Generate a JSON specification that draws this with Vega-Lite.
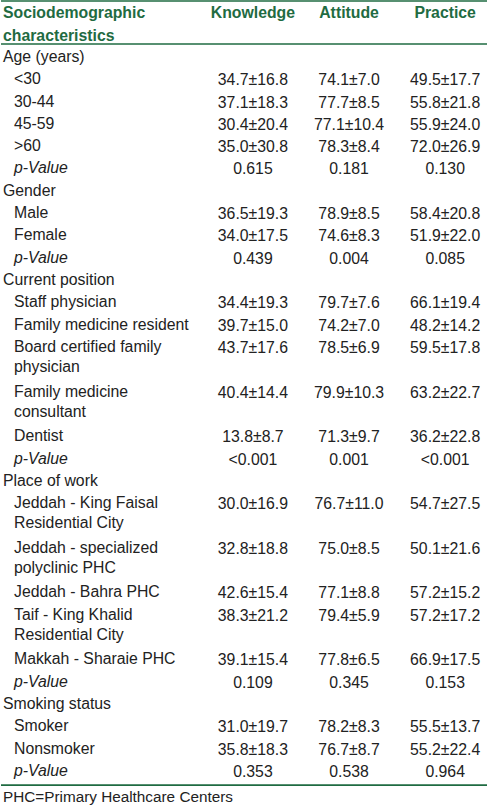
{
  "$schema": "https://vega.github.io/schema/vega-lite/v6.json",
  "width": 488,
  "height": 806,
  "autosize": {"type": "fit", "contains": "padding"},
  "padding": 0,
  "background": "white",
  "config": {"view": {"stroke": null}, "text": {"font": "Liberation Sans", "fontSize": 15.8, "color": "#222222"}},
  "datasets": {
    "rows": [
      {"line": 1, "label": "Age (years)", "level": "group"},
      {"line": 2, "label": "<30", "level": "item", "K": "34.7±16.8", "A": "74.1±7.0", "P": "49.5±17.7"},
      {"line": 3, "label": "30-44", "level": "item", "K": "37.1±18.3", "A": "77.7±8.5", "P": "55.8±21.8"},
      {"line": 4, "label": "45-59", "level": "item", "K": "30.4±20.4", "A": "77.1±10.4", "P": "55.9±24.0"},
      {"line": 5, "label": ">60", "level": "item", "K": "35.0±30.8", "A": "78.3±8.4", "P": "72.0±26.9"},
      {"line": 6, "label": "p-Value", "level": "p", "K": "0.615", "A": "0.181", "P": "0.130"},
      {"line": 7, "label": "Gender", "level": "group"},
      {"line": 8, "label": "Male", "level": "item", "K": "36.5±19.3", "A": "78.9±8.5", "P": "58.4±20.8"},
      {"line": 9, "label": "Female", "level": "item", "K": "34.0±17.5", "A": "74.6±8.3", "P": "51.9±22.0"},
      {"line": 10, "label": "p-Value", "level": "p", "K": "0.439", "A": "0.004", "P": "0.085"},
      {"line": 11, "label": "Current position", "level": "group"},
      {"line": 12, "label": "Staff physician", "level": "item", "K": "34.4±19.3", "A": "79.7±7.6", "P": "66.1±19.4"},
      {"line": 13, "label": "Family medicine resident", "level": "item", "K": "39.7±15.0", "A": "74.2±7.0", "P": "48.2±14.2"},
      {"line": 14, "label": "Board certified family\nphysician", "level": "item", "K": "43.7±17.6", "A": "78.5±6.9", "P": "59.5±17.8"},
      {"line": 16, "label": "Family medicine\nconsultant", "level": "item", "K": "40.4±14.4", "A": "79.9±10.3", "P": "63.2±22.7"},
      {"line": 18, "label": "Dentist", "level": "item", "K": "13.8±8.7", "A": "71.3±9.7", "P": "36.2±22.8"},
      {"line": 19, "label": "p-Value", "level": "p", "K": "<0.001", "A": "0.001", "P": "<0.001"},
      {"line": 20, "label": "Place of work", "level": "group"},
      {"line": 21, "label": "Jeddah - King Faisal\nResidential City", "level": "item", "K": "30.0±16.9", "A": "76.7±11.0", "P": "54.7±27.5"},
      {"line": 23, "label": "Jeddah - specialized\npolyclinic PHC", "level": "item", "K": "32.8±18.8", "A": "75.0±8.5", "P": "50.1±21.6"},
      {"line": 25, "label": "Jeddah - Bahra PHC", "level": "item", "K": "42.6±15.4", "A": "77.1±8.8", "P": "57.2±15.2"},
      {"line": 26, "label": "Taif - King Khalid\nResidential City", "level": "item", "K": "38.3±21.2", "A": "79.4±5.9", "P": "57.2±17.2"},
      {"line": 28, "label": "Makkah - Sharaie PHC", "level": "item", "K": "39.1±15.4", "A": "77.8±6.5", "P": "66.9±17.5"},
      {"line": 29, "label": "p-Value", "level": "p", "K": "0.109", "A": "0.345", "P": "0.153"},
      {"line": 30, "label": "Smoking status", "level": "group"},
      {"line": 31, "label": "Smoker", "level": "item", "K": "31.0±19.7", "A": "78.2±8.3", "P": "55.5±13.7"},
      {"line": 32, "label": "Nonsmoker", "level": "item", "K": "35.8±18.3", "A": "76.7±8.7", "P": "55.2±22.4"},
      {"line": 33, "label": "p-Value", "level": "p", "K": "0.353", "A": "0.538", "P": "0.964"}
    ],
    "head": [
      {"line": -1, "text": "Sociodemographic"},
      {"line": 0, "text": "characteristics"}
    ],
    "one": [{"note": "PHC=Primary Healthcare Centers"}]
  },
  "layer": [
    {
      "data": {"name": "one"},
      "mark": {"type": "rule", "color": "#1f6b42", "strokeWidth": 1.6},
      "encoding": {"y": {"datum": -1.55, "type": "quantitative", "scale": {"domain": [-1.596, 34.48], "reverse": true, "nice": false, "zero": false}, "axis": null}}
    },
    {
      "data": {"name": "one"},
      "mark": {"type": "rule", "color": "#1f6b42", "strokeWidth": 1.6},
      "encoding": {"y": {"datum": 0.373, "type": "quantitative"}}
    },
    {
      "data": {"name": "one"},
      "mark": {"type": "rule", "color": "#1f6b42", "strokeWidth": 1.6},
      "encoding": {"y": {"datum": 33.59, "type": "quantitative"}}
    },
    {
      "data": {"name": "head"},
      "mark": {"type": "text", "align": "left", "baseline": "middle", "fontWeight": "bold", "color": "#1f6b42"},
      "encoding": {
        "x": {"datum": -1.6, "type": "quantitative", "scale": {"domain": [-1.6207, 3.4352], "nice": false, "zero": false}, "axis": null},
        "y": {"field": "line", "type": "quantitative"},
        "text": {"field": "text"}
      }
    },
    {
      "data": {"name": "one"},
      "mark": {"type": "text", "align": "center", "baseline": "middle", "fontWeight": "bold", "color": "#1f6b42", "text": "Knowledge"},
      "encoding": {"x": {"datum": 1, "type": "quantitative"}, "y": {"datum": -1, "type": "quantitative"}}
    },
    {
      "data": {"name": "one"},
      "mark": {"type": "text", "align": "center", "baseline": "middle", "fontWeight": "bold", "color": "#1f6b42", "text": "Attitude"},
      "encoding": {"x": {"datum": 2, "type": "quantitative"}, "y": {"datum": -1, "type": "quantitative"}}
    },
    {
      "data": {"name": "one"},
      "mark": {"type": "text", "align": "center", "baseline": "middle", "fontWeight": "bold", "color": "#1f6b42", "text": "Practice"},
      "encoding": {"x": {"datum": 3, "type": "quantitative"}, "y": {"datum": -1, "type": "quantitative"}}
    },
    {
      "data": {"name": "rows"},
      "transform": [{"filter": "datum.level == 'group'"}],
      "mark": {"type": "text", "align": "left", "baseline": "top", "dy": -8, "lineBreak": "\n", "lineHeight": 20},
      "encoding": {"x": {"datum": -1.6, "type": "quantitative"}, "y": {"field": "line", "type": "quantitative"}, "text": {"field": "label"}}
    },
    {
      "data": {"name": "rows"},
      "transform": [{"filter": "datum.level == 'item'"}],
      "mark": {"type": "text", "align": "left", "baseline": "top", "dy": -8, "dx": 11, "lineBreak": "\n", "lineHeight": 20},
      "encoding": {"x": {"datum": -1.6, "type": "quantitative"}, "y": {"field": "line", "type": "quantitative"}, "text": {"field": "label"}}
    },
    {
      "data": {"name": "rows"},
      "transform": [{"filter": "datum.level == 'p'"}],
      "mark": {"type": "text", "align": "left", "baseline": "top", "dy": -8, "dx": 11, "fontStyle": "italic"},
      "encoding": {"x": {"datum": -1.6, "type": "quantitative"}, "y": {"field": "line", "type": "quantitative"}, "text": {"field": "label"}}
    },
    {
      "data": {"name": "rows"},
      "transform": [{"filter": "datum.K != null"}],
      "mark": {"type": "text", "align": "center", "baseline": "middle"},
      "encoding": {"x": {"datum": 1, "type": "quantitative"}, "y": {"field": "line", "type": "quantitative"}, "text": {"field": "K"}}
    },
    {
      "data": {"name": "rows"},
      "transform": [{"filter": "datum.A != null"}],
      "mark": {"type": "text", "align": "center", "baseline": "middle"},
      "encoding": {"x": {"datum": 2, "type": "quantitative"}, "y": {"field": "line", "type": "quantitative"}, "text": {"field": "A"}}
    },
    {
      "data": {"name": "rows"},
      "transform": [{"filter": "datum.P != null"}],
      "mark": {"type": "text", "align": "center", "baseline": "middle"},
      "encoding": {"x": {"datum": 3, "type": "quantitative"}, "y": {"field": "line", "type": "quantitative"}, "text": {"field": "P"}}
    },
    {
      "data": {"name": "one"},
      "mark": {"type": "text", "align": "left", "baseline": "middle", "fontSize": 15.3},
      "encoding": {"x": {"datum": -1.6, "type": "quantitative"}, "y": {"datum": 34.12, "type": "quantitative"}, "text": {"field": "note"}}
    }
  ]
}
